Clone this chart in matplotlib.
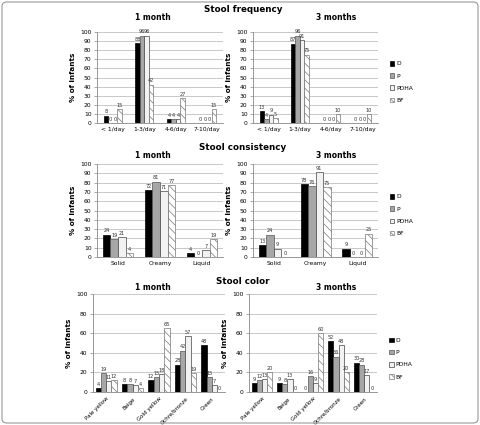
import matplotlib
matplotlib.use("Agg")
import matplotlib.pyplot as plt
import numpy as np
from matplotlib.patches import FancyBboxPatch

series = ["D", "P", "PDHA", "BF"]

freq_cats = ["< 1/day", "1-3/day", "4-6/day", "7-10/day"]
freq_1m = {"D": [8, 88, 4, 0], "P": [0, 96, 4, 0], "PDHA": [0, 96, 4, 0], "BF": [15, 42, 27, 15]}
freq_3m = {"D": [13, 87, 0, 0], "P": [4, 96, 0, 0], "PDHA": [9, 91, 0, 0], "BF": [5, 75, 10, 10]}

cons_cats = ["Solid", "Creamy", "Liquid"]
cons_1m = {"D": [24, 72, 4], "P": [19, 81, 0], "PDHA": [21, 71, 7], "BF": [4, 77, 19]}
cons_3m = {"D": [13, 78, 9], "P": [24, 76, 0], "PDHA": [9, 91, 0], "BF": [0, 75, 25]}

color_cats = ["Pale yellow", "Beige", "Gold yellow", "Ochre/bronze", "Green"]
color_1m = {"D": [4, 8, 12, 28, 48], "P": [19, 8, 15, 42, 15], "PDHA": [11, 7, 18, 57, 7], "BF": [12, 4, 65, 19, 0]}
color_3m = {"D": [9, 9, 0, 52, 30], "P": [12, 8, 16, 36, 28], "PDHA": [13, 13, 9, 48, 17], "BF": [20, 0, 60, 20, 0]}

styles = {
    "D": dict(color="black", edgecolor="black", hatch=None),
    "P": dict(color="#a6a6a6", edgecolor="#555555", hatch=None),
    "PDHA": dict(color="#f2f2f2", edgecolor="#444444", hatch=None),
    "BF": dict(color="white", edgecolor="#777777", hatch="\\\\\\\\"),
}

W, H = 480, 425
fig = plt.figure(figsize=(W / 100, H / 100), dpi=100)
plt.rcParams["hatch.linewidth"] = 0.5

# frame
frame = FancyBboxPatch((2 / W, 2 / H), (W - 4) / W, (H - 4) / H,
                       boxstyle="round,pad=0,rounding_size=0.01",
                       transform=fig.transFigure, fill=False,
                       edgecolor="#999999", linewidth=0.8)
fig.patches.append(frame)


def rect(x0, yt, x1, yb):
    return [x0 / W, 1 - yb / H, (x1 - x0) / W, (yb - yt) / H]


def draw(ax, cats, data, yticks, bw, rotate=False, legend_y=None):
    x = np.arange(len(cats))
    for i, s in enumerate(series):
        st = styles[s]
        bars = ax.bar(x + (i - 1.5) * bw, data[s], width=bw, color=st["color"],
                      edgecolor=st["edgecolor"], hatch=st["hatch"], linewidth=0.5,
                      label=s, zorder=3)
        ax.bar_label(bars, padding=1, fontsize=3.6, color="#333333")
    ax.set_xlim(-0.5, len(cats) - 0.5)
    ax.set_ylim(0, 100)
    ax.set_yticks(yticks)
    ax.grid(axis="y", color="#bfbfbf", linewidth=0.6, zorder=0)
    ax.set_axisbelow(True)
    for sp in ["top", "right"]:
        ax.spines[sp].set_visible(False)
    for sp in ["left", "bottom"]:
        ax.spines[sp].set_color("#888888")
        ax.spines[sp].set_linewidth(0.6)
    ax.tick_params(axis="y", labelsize=4.3, length=2, width=0.5, color="#888888", pad=2)
    ax.tick_params(axis="x", labelsize=4.3, length=0, pad=3)
    ax.set_xticks(x)
    if rotate:
        ax.set_xticklabels(cats, rotation=45, ha="right", rotation_mode="anchor", fontsize=4.0)
    else:
        ax.set_xticklabels(cats)
    ax.set_ylabel("% of infants", fontsize=5.2, fontweight="bold", labelpad=3)
    if legend_y is not None:
        ax.legend(loc="center left", bbox_to_anchor=(1.05, legend_y), frameon=False,
                  fontsize=4.3, handlelength=0.8, handleheight=0.8,
                  handletextpad=0.3, labelspacing=1.15)


yt10 = list(range(0, 101, 10))
yt20 = list(range(0, 101, 20))

# Row 1
ax = fig.add_axes(rect(97, 32, 223, 123))
draw(ax, freq_cats, freq_1m, yt10, 0.145)
ax = fig.add_axes(rect(253, 32, 378, 123))
draw(ax, freq_cats, freq_3m, yt10, 0.145, legend_y=0.45)

# Row 2
ax = fig.add_axes(rect(97, 164, 223, 257))
draw(ax, cons_cats, cons_1m, yt10, 0.18)
ax = fig.add_axes(rect(253, 164, 378, 257))
draw(ax, cons_cats, cons_3m, yt10, 0.18, legend_y=0.45)

# Row 3
ax = fig.add_axes(rect(93, 294, 225, 392))
draw(ax, color_cats, color_1m, yt20, 0.2, rotate=True)
ax = fig.add_axes(rect(249, 294, 377, 392))
draw(ax, color_cats, color_3m, yt20, 0.2, rotate=True, legend_y=0.34)

# Titles
def ftext(x, y, s, size, weight="bold"):
    fig.text(x / W, 1 - y / H, s, fontsize=size, fontweight=weight, ha="center", va="center")

ftext(243, 10, "Stool frequency", 6.3)
ftext(153, 17, "1 month", 5.5)
ftext(336, 17, "3 months", 5.5)
ftext(243, 147, "Stool consistency", 6.3)
ftext(153, 155, "1 month", 5.5)
ftext(336, 155, "3 months", 5.5)
ftext(243, 281, "Stool color", 6.3)
ftext(153, 288, "1 month", 5.5)
ftext(336, 288, "3 months", 5.5)

fig.savefig("out.png", dpi=100)
